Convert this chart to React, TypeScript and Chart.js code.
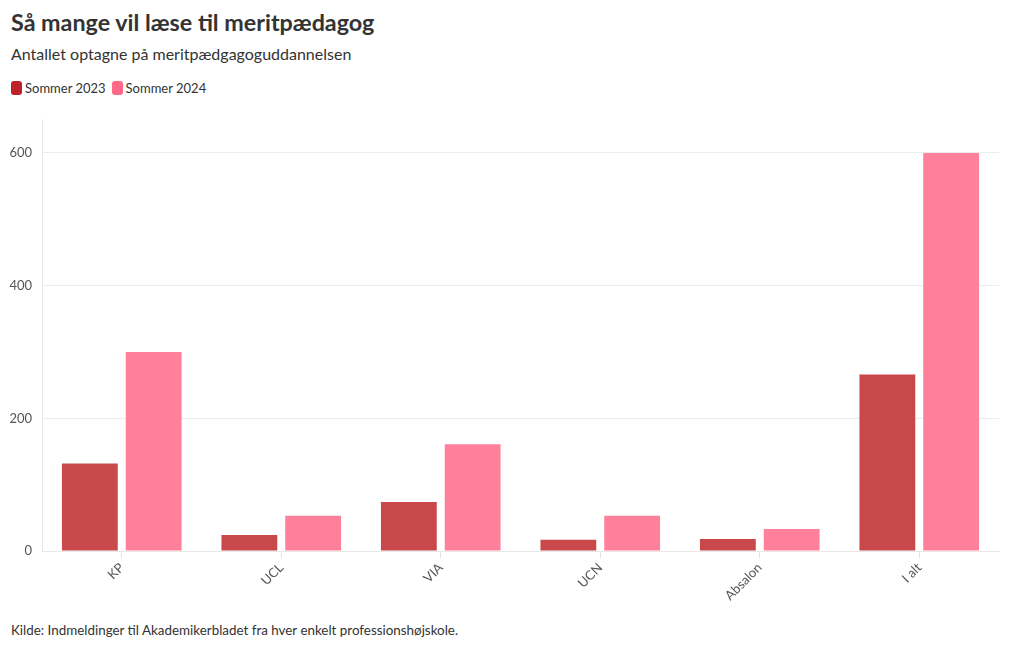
import React, { useEffect, useRef } from "react";
import { Chart, registerables } from "chart.js";

Chart.register(...registerables);

const categories = ["KP", "UCL", "VIA", "UCN", "Absalon", "I alt"];
const summer2023 = [132, 24, 74, 17, 18, 266];
const summer2024 = [300, 53, 161, 53, 33, 600];
const yTicks = [0, 200, 400, 600];

const FONT = "Lato, 'Source Sans Pro', 'Noto Sans', sans-serif";

export default function App() {
  const ref = useRef<HTMLCanvasElement | null>(null);

  useEffect(() => {
    document.body.style.margin = "0";
    const ctx = ref.current!;
    const chart = new Chart(ctx, {
      type: "bar",
      data: {
        labels: categories,
        datasets: [
          {
            label: "Sommer 2023",
            data: summer2023,
            backgroundColor: "rgb(201,73,75)",
            categoryPercentage: 0.8,
            barPercentage: 0.875,
          },
          {
            label: "Sommer 2024",
            data: summer2024,
            backgroundColor: "rgb(255,128,155)",
            categoryPercentage: 0.8,
            barPercentage: 0.875,
          },
        ],
      },
      options: {
        animation: false,
        responsive: false,
        maintainAspectRatio: false,
        layout: { padding: { top: 8, right: 21, left: 0, bottom: 0 } },
        plugins: {
          legend: { display: false },
          tooltip: { enabled: false },
          title: { display: false },
        },
        scales: {
          x: {
            offset: true,
            grid: {
              offset: false,
              drawOnChartArea: false,
              drawTicks: true,
              tickLength: 7,
              color: "#e4e4e4",
            },
            border: { display: true, color: "#e8e8e8" },
            ticks: {
              color: "#555",
              font: { family: FONT, size: 13 },
              minRotation: 45,
              maxRotation: 45,
              padding: 2,
            },
            afterFit: (s: any) => {
              s.height = 59;
            },
          },
          y: {
            min: 0,
            max: 650,
            grid: { color: "#ececec", drawTicks: false },
            border: { display: true, color: "#e8e8e8" },
            ticks: {
              color: "#555",
              font: { family: FONT, size: 13 },
              padding: 10,
            },
            afterBuildTicks: (s: any) => {
              s.ticks = yTicks.map((v) => ({ value: v }));
            },
            afterFit: (s: any) => {
              s.width = 42;
            },
          },
        },
      },
    });
    return () => chart.destroy();
  }, []);

  const box = (color: string) => (
    <span
      style={{
        display: "inline-block",
        width: 11,
        height: 14,
        borderRadius: 3,
        background: color,
        marginRight: 3,
        verticalAlign: "-2px",
      }}
    />
  );

  return (
    <div
      style={{
        position: "relative",
        width: 1020,
        height: 650,
        fontFamily: FONT,
        color: "#333",
        background: "#fff",
      }}
    >
      <div
        style={{
          position: "absolute",
          left: 11,
          top: 8,
          fontSize: 23.3,
          fontWeight: 700,
          color: "#333",
          whiteSpace: "nowrap",
        }}
      >
        Så mange vil læse til meritpædagog
      </div>
      <div
        style={{
          position: "absolute",
          left: 11,
          top: 44,
          fontSize: 16,
          color: "#333",
          whiteSpace: "nowrap",
        }}
      >
        Antallet optagne på meritpædgagoguddannelsen
      </div>
      <div
        style={{
          position: "absolute",
          left: 11,
          top: 80,
          fontSize: 13,
          color: "#333",
          whiteSpace: "nowrap",
        }}
      >
        {box("rgb(192,32,42)")}
        <span style={{ marginRight: 6 }}>Sommer 2023</span>
        {box("rgb(255,104,136)")}
        <span>Sommer 2024</span>
      </div>
      <canvas
        ref={ref}
        width={1020}
        height={508}
        style={{ position: "absolute", left: 0, top: 102, width: 1020, height: 508 }}
      />
      <div
        style={{
          position: "absolute",
          left: 11,
          top: 622,
          fontSize: 13.4,
          color: "#333",
          whiteSpace: "nowrap",
        }}
      >
        Kilde: Indmeldinger til Akademikerbladet fra hver enkelt professionshøjskole.
      </div>
    </div>
  );
}
